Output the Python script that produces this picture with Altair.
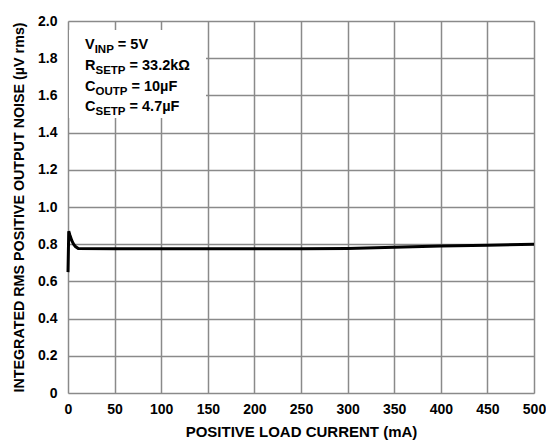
import altair as alt
import pandas as pd

# Curve data
current_mA = [0, 0.8, 2, 4, 6, 8, 11, 50, 100, 150, 200, 250, 300, 350, 400, 450, 500]
noise_uVrms = [0.65, 0.87, 0.85, 0.82, 0.80, 0.787, 0.777, 0.775, 0.775, 0.775, 0.775, 0.775, 0.777, 0.784, 0.79, 0.795, 0.80]

x_ticks = [0, 50, 100, 150, 200, 250, 300, 350, 400, 450, 500]
y_ticks = [0, 0.2, 0.4, 0.6, 0.8, 1.0, 1.2, 1.4, 1.6, 1.8, 2.0]

# Annotation lines: (main, subscript, rest)
ann_main = ["V", "R", "C", "C"]
ann_sub = ["INP", "SETP", "OUTP", "SETP"]
ann_rest = ["= 5V", "= 33.2kΩ", "= 10µF", "= 4.7µF"]

FONT = "Liberation Sans"
W, H = 466, 372

# Arial-bold character widths (em) for placing subscripts
CW = {"V": .667, "R": .722, "C": .722, "I": .278, "N": .722, "P": .667,
      "S": .667, "E": .667, "T": .611, "O": .778, "U": .722, " ": .278}


def tw(s, size):
    return sum(CW.get(c, .6) for c in s) * size


df = pd.DataFrame({"x": current_mA, "y": noise_uVrms})

xs = alt.Scale(domain=[0, 500], nice=False)
ys = alt.Scale(domain=[0, 2], nice=False)

line = alt.Chart(df).mark_line(color="black", strokeWidth=3).encode(
    x=alt.X("x:Q", scale=xs, axis=alt.Axis(
        values=x_ticks, title="POSITIVE LOAD CURRENT (mA)", format="d",
        grid=True, gridColor="#8a8a8a", gridWidth=1.5, ticks=False, domain=False,
        labelFont=FONT, labelFontSize=14, labelFontWeight="bold", labelColor="black",
        labelPadding=9, labelFlush=False,
        titleFont=FONT, titleFontSize=15, titleFontWeight="bold", titleColor="black",
        titlePadding=8)),
    y=alt.Y("y:Q", scale=ys, axis=alt.Axis(
        values=y_ticks, title="INTEGRATED RMS POSITIVE OUTPUT NOISE (µV rms)",
        labelExpr="datum.value == 0 ? '0' : format(datum.value, '.1f')",
        grid=True, gridColor="#8a8a8a", gridWidth=1.5, ticks=False, domain=False,
        labelFont=FONT, labelFontSize=14, labelFontWeight="bold", labelColor="black",
        labelPadding=11, labelFlush=False,
        titleFont=FONT, titleFontSize=14.3, titleFontWeight="bold", titleColor="black",
        titlePadding=11)),
)

box = alt.Chart(pd.DataFrame({"a": [0]})).mark_rect(color="white").encode(
    x=alt.value(1), x2=alt.value(138), y=alt.value(9), y2=alt.value(97))

MS, SS = 14.5, 11.5
x0 = 17
baselines = [28, 49, 70, 90]
texts = []
for i in range(4):
    m, s, r = ann_main[i], ann_sub[i], ann_rest[i]
    b = baselines[i]
    xm = x0
    xsub = xm + tw(m, MS)
    xr = xsub + tw(s, SS) + tw(" ", MS)
    src = pd.DataFrame({"m": [m], "s": [s], "r": [r]})
    base = alt.Chart(src)
    texts.append(base.mark_text(font=FONT, fontSize=MS, fontWeight="bold", align="left",
                                baseline="alphabetic", color="black").encode(
        text="m:N", x=alt.value(xm), y=alt.value(b)))
    texts.append(base.mark_text(font=FONT, fontSize=SS, fontWeight="bold", align="left",
                                baseline="alphabetic", color="black").encode(
        text="s:N", x=alt.value(xsub), y=alt.value(b + 4)))
    texts.append(base.mark_text(font=FONT, fontSize=MS, fontWeight="bold", align="left",
                                baseline="alphabetic", color="black").encode(
        text="r:N", x=alt.value(xr), y=alt.value(b)))

chart = alt.layer(line.mark_line(opacity=0), box, *texts, line).properties(
    width=W, height=H,
    autosize=alt.AutoSizeParams(type="none"),
    padding={"left": 60, "top": 13, "right": 12, "bottom": 47},
).configure_view(stroke="black", strokeWidth=1.5).configure(background="white")

chart.save("out.html", embed_options={"renderer": "svg", "actions": False})
